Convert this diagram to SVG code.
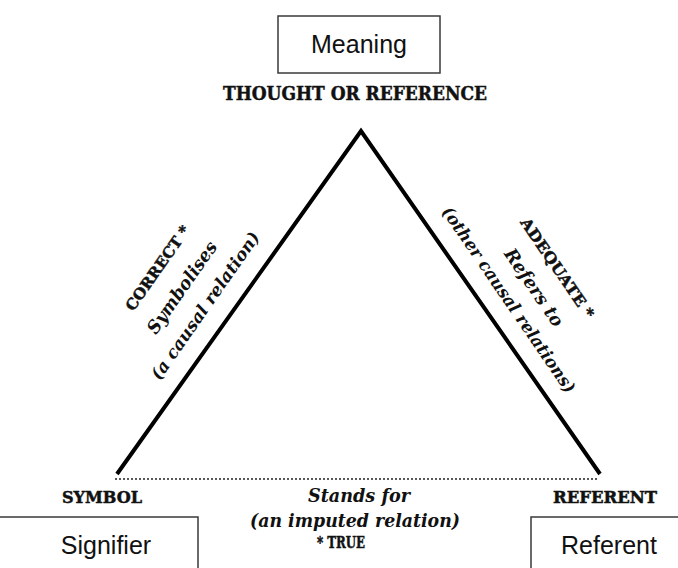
<svg xmlns="http://www.w3.org/2000/svg" width="678" height="568" viewBox="0 0 678 568">
<style>
.box{fill:#fff;stroke:#3a3a3a;stroke-width:1.5}
.lbl{font-family:"Liberation Sans",Arial,sans-serif;font-size:25px;fill:#111;text-anchor:middle}
.caps{font-family:"DejaVu Serif","Liberation Serif",serif;font-weight:bold;fill:#111;stroke:#111;stroke-width:0.5;text-anchor:middle}
.it{font-family:"DejaVu Serif","Liberation Serif",serif;font-style:italic;font-weight:bold;fill:#111;text-anchor:middle}
.edge{fill:none;stroke:#000;stroke-width:4;stroke-linejoin:miter}
.dot{stroke:#222;stroke-width:1.6;stroke-dasharray:2 2}
</style>
<rect width="678" height="568" fill="#fff"/>
<g id="connectors">
<path class="edge" d="M117,474 L361,131 L600,474"/>
<line class="dot" x1="115" y1="479" x2="598" y2="479"/>
</g>
<g id="meaning">
<rect class="box" x="278" y="16" width="162" height="57"/>
<text class="lbl" x="359" y="53">Meaning</text>
<text class="caps" x="355" y="100" font-size="19" textLength="264" lengthAdjust="spacingAndGlyphs">THOUGHT OR REFERENCE</text>
</g>
<g id="signifier">
<rect class="box" x="-2" y="517" width="200" height="60"/>
<text class="lbl" x="106" y="554">Signifier</text>
<text class="caps" x="102" y="503" font-size="16" textLength="80" lengthAdjust="spacingAndGlyphs">SYMBOL</text>
</g>
<g id="referent">
<rect class="box" x="531" y="517" width="152" height="60"/>
<text class="lbl" x="609" y="554">Referent</text>
<text class="caps" x="605" y="503" font-size="16" textLength="104" lengthAdjust="spacingAndGlyphs">REFERENT</text>
</g>
<g id="label-left">
<text class="caps" font-size="15" textLength="100" lengthAdjust="spacingAndGlyphs" transform="translate(162,271) rotate(-55)">CORRECT *</text>
<text class="it" font-size="18" textLength="108" lengthAdjust="spacingAndGlyphs" transform="translate(187,291) rotate(-55)">Symbolises</text>
<text class="it" font-size="17" textLength="176" lengthAdjust="spacingAndGlyphs" transform="translate(210,309) rotate(-55)">(a causal relation)</text>
</g>
<g id="label-right">
<text class="caps" font-size="15" textLength="118" lengthAdjust="spacingAndGlyphs" transform="translate(553,271) rotate(55.6)">ADEQUATE *</text>
<text class="it" font-size="18" textLength="90" lengthAdjust="spacingAndGlyphs" transform="translate(529,291) rotate(55.6)">Refers to</text>
<text class="it" font-size="17" textLength="222" lengthAdjust="spacingAndGlyphs" transform="translate(504,303) rotate(55.6)">(other causal relations)</text>
</g>
<g id="label-bottom">
<text class="it" x="359" y="502" font-size="19" textLength="102" lengthAdjust="spacingAndGlyphs">Stands for</text>
<text class="it" x="355" y="527" font-size="19" textLength="210" lengthAdjust="spacingAndGlyphs">(an imputed relation)</text>
<text class="caps" x="341" y="548" font-size="16" textLength="48" lengthAdjust="spacingAndGlyphs">* TRUE</text>
</g>
</svg>
